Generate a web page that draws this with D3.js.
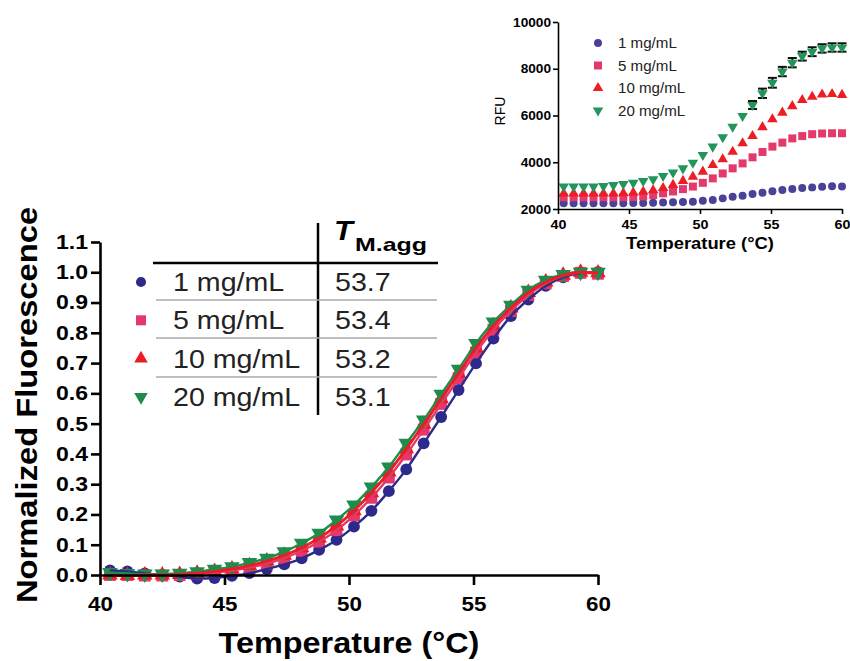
<!DOCTYPE html>
<html>
<head>
<meta charset="utf-8">
<script src="https://cdn.jsdelivr.net/npm/d3@7"></script>
<style>
  body { margin: 0; background: #fff; }
  svg { display: block; font-family: "Liberation Sans", Arial, sans-serif; }
</style>
</head>
<body>
<div id="chart"></div>
<script>
// temperatures of the melt scan (°C)
const temps = [40.4, 41.1, 41.8, 42.5, 43.2, 43.9, 44.6, 45.3, 46.0, 46.7, 47.4, 48.1, 48.8, 49.5, 50.2,
  50.9, 51.6, 52.3, 53.0, 53.7, 54.4, 55.1, 55.8, 56.5, 57.2, 57.9, 58.6, 59.3, 60.0];

// main panel: normalized fluorescence
const norm1 = [0.015, 0.012, 0.005, 0.0, -0.005, -0.012, -0.01, -0.003, 0.006, 0.02, 0.035, 0.055, 0.083, 0.116, 0.16,
  0.212, 0.277, 0.349, 0.435, 0.522, 0.611, 0.699, 0.781, 0.855, 0.91, 0.955, 0.983, 0.997, 1.0];
const norm5 = [0.0, 0.0, -0.002, -0.002, 0.0, 0.003, 0.008, 0.015, 0.025, 0.038, 0.056, 0.08, 0.11, 0.148, 0.197,
  0.255, 0.322, 0.398, 0.48, 0.565, 0.65, 0.735, 0.81, 0.872, 0.925, 0.963, 0.988, 0.998, 0.995];
const norm10 = [0.0, -0.002, 0.0, 0.0, 0.002, 0.006, 0.012, 0.02, 0.031, 0.046, 0.065, 0.09, 0.122, 0.162, 0.212,
  0.272, 0.34, 0.417, 0.498, 0.582, 0.666, 0.75, 0.823, 0.882, 0.933, 0.968, 0.99, 1.0, 0.998];
const norm20 = [0.008, 0.005, 0.003, 0.003, 0.006, 0.011, 0.019, 0.027, 0.041, 0.055, 0.077, 0.105, 0.138, 0.182, 0.231,
  0.291, 0.357, 0.435, 0.512, 0.597, 0.68, 0.765, 0.836, 0.891, 0.941, 0.974, 0.993, 1.0, 1.0];

// inset: raw RFU
const rfu1 = [2250, 2250, 2250, 2250, 2250, 2250, 2250, 2255, 2260, 2270, 2280, 2290, 2300, 2315, 2355,
  2385, 2455, 2525, 2570, 2640, 2700, 2755, 2810, 2855, 2900, 2925, 2955, 2970, 2960];
const rfu5 = [2500, 2500, 2500, 2500, 2500, 2500, 2500, 2510, 2540, 2600, 2670, 2750, 2850, 2960, 3120,
  3310, 3520, 3740, 3950, 4210, 4440, 4670, 4840, 5020, 5120, 5200, 5230, 5240, 5240];
const rfu10 = [2670, 2670, 2670, 2670, 2670, 2670, 2680, 2700, 2740, 2800, 2900, 3030, 3200, 3380, 3600,
  3880, 4130, 4450, 4810, 5120, 5500, 5840, 6120, 6400, 6660, 6800, 6900, 6920, 6880];
const rfu20 = [2960, 2960, 2960, 2960, 2980, 3020, 3070, 3120, 3200, 3270, 3410, 3560, 3740, 3980, 4310,
  4670, 5070, 5520, 5980, 6450, 6950, 7400, 7880, 8260, 8540, 8730, 8870, 8910, 8910];
const err20 = [0, 0, 0, 0, 0, 0, 0, 0, 0, 0, 0, 0, 0, 0, 0,
  0, 0, 0, 0, 170, 200, 210, 200, 200, 190, 190, 180, 180, 180];

const concLabels = ["1 mg/mL", "5 mg/mL", "10 mg/mL", "20 mg/mL"];
const tmValues = ["53.7", "53.4", "53.2", "53.1"];

const mainTicksX = [40, 45, 50, 55, 60];
const mainTicksY = [0, 0.1, 0.2, 0.3, 0.4, 0.5, 0.6, 0.7, 0.8, 0.9, 1.0, 1.1];
const insetTicksY = [2000, 4000, 6000, 8000, 10000];

const colors = ["#2d2a8c", "#e5386a", "#ec1c24", "#1e8c4c"];
const insetColors = ["#4a4199", "#e33a6b", "#ee1c25", "#22955a"];
const shapes = ["circle", "square", "up", "down"];

const width = 850, height = 661;

const svg = d3.select("#chart").append("svg")
  .attr("width", width)
  .attr("height", height);

// stretch text a bit along its baseline (reference font runs wider than Arial)
function widen(sel, k) {
  sel.each(function () {
    const len = this.getComputedTextLength();
    d3.select(this).attr("textLength", len * k).attr("lengthAdjust", "spacingAndGlyphs");
  });
}

function symbolPath(shape, size) {
  const type = shape === "circle" ? d3.symbolCircle : shape === "square" ? d3.symbolSquare : d3.symbolTriangle;
  return d3.symbol().type(type).size(size)();
}
function symbolTransform(shape, x, y) {
  return shape === "down" ? `translate(${x},${y}) rotate(180)` : `translate(${x},${y})`;
}

// ---------------- main panel ----------------
const x = d3.scaleLinear().domain([40, 60]).range([100, 598]);
const y = d3.scaleLinear().domain([0, 1.1]).range([575, 242]);

const mainSeries = [norm1, norm5, norm10, norm20];
const mainSizes = [110, 140, 105, 105];

const markers = svg.append("g");
mainSeries.forEach((vals, s) => {
  markers.append("g").selectAll("path")
    .data(vals)
    .join("path")
    .attr("d", symbolPath(shapes[s], mainSizes[s]))
    .attr("transform", (d, i) => symbolTransform(shapes[s], x(temps[i]), y(d)))
    .attr("fill", colors[s]);
});

const line = d3.line()
  .x((d, i) => x(temps[i]))
  .y(d => y(d))
  .curve(d3.curveMonotoneX);

[0, 1, 3, 2].forEach(s => {
  svg.append("path")
    .datum(mainSeries[s])
    .attr("d", line)
    .attr("fill", "none")
    .attr("stroke", colors[s])
    .attr("stroke-width", s === 2 ? 2.8 : 2.4);
});

const xAxis = svg.append("g")
  .attr("transform", "translate(0,575)")
  .call(d3.axisBottom(x).tickValues(mainTicksX).tickSize(10).tickSizeOuter(0).tickPadding(12));
const yAxis = svg.append("g")
  .attr("transform", "translate(100,0)")
  .call(d3.axisLeft(y).tickValues(mainTicksY).tickFormat(d3.format(".1f")).tickSize(9).tickSizeOuter(0).tickPadding(3));

[xAxis, yAxis].forEach(g => {
  g.select(".domain").attr("stroke", "#000").attr("stroke-width", 2.6);
  g.selectAll(".tick line").attr("stroke", "#000").attr("stroke-width", 2.6);
  g.selectAll(".tick text")
    .attr("fill", "#000")
    .style("font-family", "'Liberation Sans', Arial, sans-serif")
    .style("font-weight", "bold")
    .style("font-size", "20px");
});
widen(xAxis.selectAll(".tick text"), 1.12);
widen(yAxis.selectAll(".tick text"), 1.15);

const xTitle = svg.append("text")
  .attr("x", 349)
  .attr("y", 653)
  .attr("text-anchor", "middle")
  .style("font-size", "30px")
  .style("font-weight", "bold")
  .text("Temperature (°C)");
widen(xTitle, 1.08);

const yTitle = svg.append("text")
  .attr("transform", "translate(37,405) rotate(-90)")
  .attr("text-anchor", "middle")
  .style("font-size", "30px")
  .style("font-weight", "bold")
  .text("Normalized Fluorescence");
widen(yTitle, 1.09);

// table-style legend
const table = svg.append("g");
table.append("line")
  .attr("x1", 318).attr("x2", 318).attr("y1", 223).attr("y2", 415)
  .attr("stroke", "#000").attr("stroke-width", 2.5);
table.append("line")
  .attr("x1", 153).attr("x2", 438).attr("y1", 263).attr("y2", 263)
  .attr("stroke", "#000").attr("stroke-width", 2.5);
[300, 338, 377].forEach(yy => {
  table.append("line")
    .attr("x1", 156).attr("x2", 437).attr("y1", yy).attr("y2", yy)
    .attr("stroke", "#aaa").attr("stroke-width", 1.5);
});

const tHead = table.append("text")
  .attr("x", 334).attr("y", 240)
  .style("font-size", "28px").style("font-weight", "bold").style("font-style", "italic")
  .text("T");
widen(tHead, 1.1);
table.append("text")
  .attr("x", 355).attr("y", 251)
  .attr("textLength", 72).attr("lengthAdjust", "spacingAndGlyphs")
  .style("font-size", "19px").style("font-weight", "bold")
  .text("M.agg");

const legendSizes = [80, 100, 80, 80];
concLabels.forEach((lab, i) => {
  const cy = 282 + i * 38.3;
  table.append("path")
    .attr("d", symbolPath(shapes[i], legendSizes[i]))
    .attr("transform", symbolTransform(shapes[i], 141, cy))
    .attr("fill", colors[i]);
  const t1 = table.append("text")
    .attr("x", 173).attr("y", cy + 9)
    .style("font-size", "26px").attr("fill", "#222")
    .text(lab);
  widen(t1, 1.1);
  const t2 = table.append("text")
    .attr("x", 335).attr("y", cy + 9)
    .style("font-size", "26px").attr("fill", "#222")
    .text(tmValues[i]);
  widen(t2, 1.1);
});

// ---------------- inset ----------------
const xi = d3.scaleLinear().domain([40, 60]).range([558, 842]);
const yi = d3.scaleLinear().domain([2000, 10000]).range([209, 22]);

const insetSeries = [rfu1, rfu5, rfu10, rfu20];
const insetSizes = [50, 64, 48, 48];

// error bars on the 20 mg/mL series
const errG = svg.append("g").attr("stroke", "#111").attr("stroke-width", 2);
rfu20.forEach((v, i) => {
  if (!err20[i]) return;
  const cx = xi(temps[i]);
  const top = yi(v + err20[i]), bot = yi(v - err20[i]);
  errG.append("line").attr("x1", cx).attr("x2", cx).attr("y1", top).attr("y2", bot);
  errG.append("line").attr("x1", cx - 4.5).attr("x2", cx + 4.5).attr("y1", top).attr("y2", top);
  errG.append("line").attr("x1", cx - 4.5).attr("x2", cx + 4.5).attr("y1", bot).attr("y2", bot);
});

insetSeries.forEach((vals, s) => {
  svg.append("g").selectAll("path")
    .data(vals)
    .join("path")
    .attr("d", symbolPath(shapes[s], insetSizes[s]))
    .attr("transform", (d, i) => symbolTransform(shapes[s], xi(temps[i]), yi(d)))
    .attr("fill", insetColors[s]);
});

const xiAxis = svg.append("g")
  .attr("transform", "translate(0,209)")
  .call(d3.axisBottom(xi).tickValues(mainTicksX).tickSize(5).tickSizeOuter(0).tickPadding(6));
const yiAxis = svg.append("g")
  .attr("transform", "translate(558,0)")
  .call(d3.axisLeft(yi).tickValues(insetTicksY).tickFormat(d3.format("d")).tickSize(5).tickSizeOuter(0).tickPadding(2));

[xiAxis, yiAxis].forEach(g => {
  g.select(".domain").attr("stroke", "#000").attr("stroke-width", 1.6);
  g.selectAll(".tick line").attr("stroke", "#000").attr("stroke-width", 1.6);
  g.selectAll(".tick text")
    .attr("fill", "#000")
    .style("font-family", "'Liberation Sans', Arial, sans-serif")
    .style("font-weight", "bold")
    .style("font-size", "13px");
});
widen(xiAxis.selectAll(".tick text"), 1.1);
widen(yiAxis.selectAll(".tick text"), 1.05);

const xiTitle = svg.append("text")
  .attr("x", 700).attr("y", 249)
  .attr("text-anchor", "middle")
  .style("font-size", "17px").style("font-weight", "bold")
  .text("Temperature (°C)");
widen(xiTitle, 1.08);

svg.append("text")
  .attr("transform", "translate(505,111) rotate(-90)")
  .attr("text-anchor", "middle")
  .style("font-size", "14px")
  .text("RFU");

concLabels.forEach((lab, i) => {
  const cy = 43 + i * 22.5;
  svg.append("path")
    .attr("d", symbolPath(shapes[i], insetSizes[i]))
    .attr("transform", symbolTransform(shapes[i], 598, cy))
    .attr("fill", insetColors[i]);
  const t = svg.append("text")
    .attr("x", 618).attr("y", cy + 5)
    .style("font-size", "14px").attr("fill", "#222")
    .text(lab);
  widen(t, 1.08);
});
</script>
</body>
</html>
